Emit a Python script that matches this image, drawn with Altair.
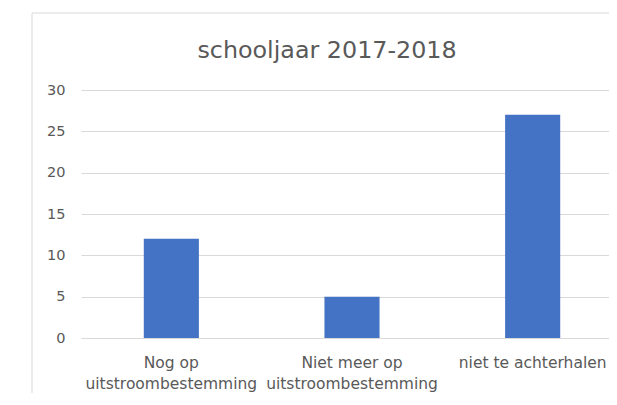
import altair as alt
import pandas as pd

categories = ["Nog op\nuitstroombestemming", "Niet meer op\nuitstroombestemming", "niet te achterhalen"]
values = [12, 5, 27]
title_text = "schooljaar 2017-2018"
y_ticks = [0, 5, 10, 15, 20, 25, 30]

df = pd.DataFrame({"cat": categories, "val": values})

W = 528
H = 248
FONT = "DejaVu Sans"
GRAY = "#595959"
LINE = "#d9d9d9"

bars = alt.Chart(df).mark_bar(color="#4472C4").encode(
    x=alt.X("cat:N", sort=categories, title=None,
            scale=alt.Scale(range=[0, 542], paddingInner=0.695, paddingOuter=0.3475),
            axis=alt.Axis(labelExpr="split(datum.label, '\\n')", labelAngle=0,
                          labelFont=FONT, labelFontSize=15.5, labelColor=GRAY,
                          labelLineHeight=21, labelPadding=17, labelBaseline="top",
                          ticks=False, domainColor=LINE, domainWidth=1, grid=False)),
    y=alt.Y("val:Q", title=None,
            scale=alt.Scale(domain=[0, 30], nice=False),
            axis=alt.Axis(values=y_ticks, labelFont=FONT, labelFontSize=14.5, labelColor=GRAY,
                          labelPadding=16, ticks=False, domain=False,
                          gridColor=LINE, gridWidth=1)),
)

title = alt.Chart(pd.DataFrame({"t": [title_text]})).mark_text(
    font=FONT, fontSize=23.8, color=GRAY, align="center", baseline="alphabetic"
).encode(x=alt.value(246), y=alt.value(-32), text="t:N")

border_top = alt.Chart(pd.DataFrame({"a": [0]})).mark_rule(color=LINE, strokeWidth=1).encode(
    x=alt.value(-49), x2=alt.value(W), y=alt.value(-77))
border_left = alt.Chart(pd.DataFrame({"a": [0]})).mark_rule(color=LINE, strokeWidth=1).encode(
    x=alt.value(-49), y=alt.value(-77), y2=alt.value(H + 60))

chart = alt.layer(border_top, border_left, bars, title).properties(
    width=W, height=H,
    autosize=alt.AutoSizeParams(type="none"),
    padding={"left": 73, "top": 82, "right": 0, "bottom": 55},
    background="white",
).configure_view(stroke=None)

chart.save("out.html", embed_options={"renderer": "svg", "actions": False})
